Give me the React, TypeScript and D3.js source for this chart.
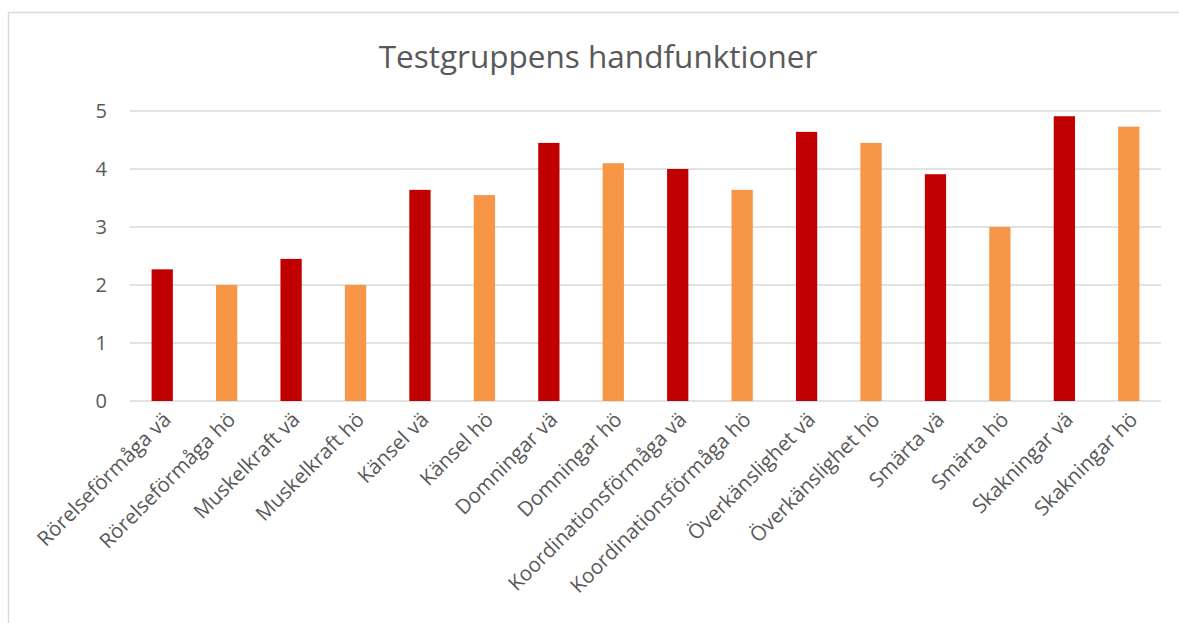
import { useEffect, useRef } from "react";
import * as d3 from "d3";

const categories = [
  "Rörelseförmåga vä",
  "Rörelseförmåga hö",
  "Muskelkraft vä",
  "Muskelkraft hö",
  "Känsel vä",
  "Känsel hö",
  "Domningar vä",
  "Domningar hö",
  "Koordinationsförmåga vä",
  "Koordinationsförmåga hö",
  "Överkänslighet vä",
  "Överkänslighet hö",
  "Smärta vä",
  "Smärta hö",
  "Skakningar vä",
  "Skakningar hö",
];
const values = [2.27, 2.0, 2.45, 2.0, 3.64, 3.55, 4.45, 4.1, 4.0, 3.64, 4.64, 4.45, 3.91, 3.0, 4.91, 4.73];
const yTicks = [0, 1, 2, 3, 4, 5];
const sides = ["vä", "hö"];
const sideColors = ["#C00000", "#F79646"];
const title = "Testgruppens handfunktioner";

const App = () => {
  const svgRef = useRef<SVGSVGElement>(null);

  useEffect(() => {
    const width = 1179;
    const height = 623;
    const font = "'Open Sans', sans-serif";
    const textColor = "#595959";
    const gridColor = "#D9D9D9";

    const svg = d3.select(svgRef.current);
    svg.selectAll("*").remove();

    // chart frame (only left and top edges are visible in the crop)
    svg
      .append("rect")
      .attr("x", 8.5)
      .attr("y", 12.5)
      .attr("width", width + 20)
      .attr("height", height + 20)
      .attr("fill", "white")
      .attr("stroke", gridColor)
      .attr("stroke-width", 1.5);

    const xScale = d3
      .scaleBand<string>()
      .domain(categories)
      .range([130, 1161])
      .paddingInner(0.67)
      .paddingOuter(0.335);

    const yScale = d3.scaleLinear().domain([0, 5]).range([401, 111]);

    const color = d3.scaleOrdinal<string, string>().domain(sides).range(sideColors);

    // title
    svg
      .append("text")
      .attr("x", 598)
      .attr("y", 68)
      .attr("text-anchor", "middle")
      .attr("font-family", font)
      .attr("font-size", 31.5)
      .attr("fill", textColor)
      .text(title);

    // gridlines
    svg
      .append("g")
      .selectAll("line")
      .data(yTicks)
      .join("line")
      .attr("x1", 130)
      .attr("x2", 1161)
      .attr("y1", (d) => yScale(d))
      .attr("y2", (d) => yScale(d))
      .attr("stroke", gridColor)
      .attr("stroke-width", 1.5);

    // y labels
    svg
      .append("g")
      .selectAll("text")
      .data(yTicks)
      .join("text")
      .attr("x", 107)
      .attr("y", (d) => yScale(d))
      .attr("dy", "0.35em")
      .attr("text-anchor", "end")
      .attr("font-family", font)
      .attr("font-size", 20)
      .attr("fill", textColor)
      .text((d) => d);

    // bars
    svg
      .append("g")
      .selectAll("rect")
      .data(values)
      .join("rect")
      .attr("x", (_, i) => xScale(categories[i])!)
      .attr("width", xScale.bandwidth())
      .attr("y", (d) => yScale(d))
      .attr("height", (d) => yScale(0) - yScale(d))
      .attr("fill", (_, i) => color(categories[i].split(" ").pop()!));

    // x labels, rotated -45
    svg
      .append("g")
      .selectAll("text")
      .data(categories)
      .join("text")
      .attr("transform", (d) => {
        const cx = xScale(d)! + xScale.bandwidth() / 2;
        return `translate(${cx + 10}, ${421}) rotate(-45)`;
      })
      .attr("text-anchor", "end")
      .attr("font-family", font)
      .attr("font-size", 20.5)
      .attr("fill", textColor)
      .text((d) => d);
  }, []);

  return (
    <svg
      ref={svgRef}
      width={1179}
      height={623}
      style={{ position: "absolute", left: 0, top: 0, background: "white" }}
    />
  );
};

export default App;
